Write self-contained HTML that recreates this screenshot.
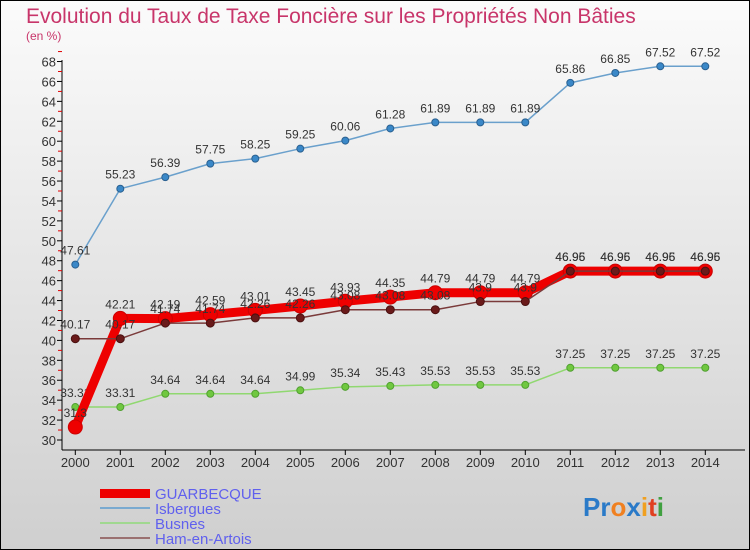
<!DOCTYPE html>
<html><head><meta charset="utf-8"><style>
html,body{margin:0;padding:0}
body{width:750px;height:550px;overflow:hidden;font-family:"Liberation Sans",sans-serif}
svg{display:block}
</style></head><body>
<svg id="chart" width="750" height="550" xmlns="http://www.w3.org/2000/svg">
<defs>
<linearGradient id="bg" x1="0" y1="0" x2="0" y2="1">
<stop offset="0" stop-color="#fbfbfb"/><stop offset="1" stop-color="#cfcfcf"/>
</linearGradient>
</defs>
<rect x="0.5" y="0.5" width="749" height="549" fill="url(#bg)" stroke="#000"/>
<text x="26" y="23" font-size="21" fill="#c8356a">Evolution du Taux de Taxe Foncière sur les Propriétés Non Bâties</text>
<text x="26" y="40" font-size="12" fill="#c8356a">(en %)</text>
<line x1="62" y1="60" x2="62" y2="450" stroke="#000"/>
<line x1="62" y1="450" x2="745" y2="450" stroke="#000"/>
<g id="axes"></g>
<g id="series"></g>
<g>
<rect x="100" y="489" width="50" height="9" fill="#ee0000"/>
<text x="155" y="499" font-size="15" fill="#6060ee">GUARBECQUE</text>
<line x1="100" y1="508" x2="150" y2="508" stroke="#7aaad0" stroke-width="2"/>
<text x="155" y="514" font-size="15" fill="#6060ee">Isbergues</text>
<line x1="100" y1="523" x2="150" y2="523" stroke="#a0d890" stroke-width="2"/>
<text x="155" y="529" font-size="15" fill="#6060ee">Busnes</text>
<line x1="100" y1="538" x2="150" y2="538" stroke="#9a7070" stroke-width="2"/>
<text x="155" y="544" font-size="15" fill="#6060ee">Ham-en-Artois</text>
</g>
<text x="583" y="516" font-size="26" font-weight="bold"><tspan fill="#2a7ac8">Pr</tspan><tspan fill="#f08020">o</tspan><tspan fill="#2a7ac8">x</tspan><tspan fill="#f0a020">i</tspan><tspan fill="#e04020">t</tspan><tspan fill="#40a040">i</tspan></text>
</svg>
<script>
const years=[2000,2001,2002,2003,2004,2005,2006,2007,2008,2009,2010,2011,2012,2013,2014];
const guarbecque=[31.3,42.21,42.19,42.59,43.01,43.45,43.93,44.35,44.79,44.79,44.79,46.96,46.96,46.96,46.96];
const isbergues=[47.61,55.23,56.39,57.75,58.25,59.25,60.06,61.28,61.89,61.89,61.89,65.86,66.85,67.52,67.52];
const busnes=[33.31,33.31,34.64,34.64,34.64,34.99,35.34,35.43,35.53,35.53,35.53,37.25,37.25,37.25,37.25];
const ham=[40.17,40.17,41.74,41.74,42.26,42.26,43.08,43.08,43.08,43.9,43.9,46.95,46.95,46.95,46.95];
const yTicks=[30,32,34,36,38,40,42,44,46,48,50,52,54,56,58,60,62,64,66,68];
const NS="http://www.w3.org/2000/svg";
const xs=i=>75.3+i*45;
const ys=v=>440-(v-30)*9.96;
const axes=document.getElementById('axes'),ser=document.getElementById('series');
function mk(tag,attrs,parent){const e=document.createElementNS(NS,tag);for(const k in attrs)e.setAttribute(k,attrs[k]);parent.appendChild(e);return e;}
yTicks.forEach(v=>{
  const y=ys(v);
  const t=mk('line',{x1:57,x2:62,y1:y,y2:y,stroke:'#000'},axes);
  
  
  const m=mk('line',{x1:58,x2:62,y1:y-9.96,y2:y-9.96,stroke:'#e00000'},axes);
  
  
  const l=mk('text',{x:56,y:y+5,'font-size':13,fill:'#333','text-anchor':'end'},axes);
  l.textContent=v;
  
  
});
years.forEach((yr,i)=>{
  const x=xs(i);
  const t=mk('line',{x1:x,x2:x,y1:450,y2:455,stroke:'#000'},axes);
  
  
  const l=mk('text',{x:x,y:467,'font-size':13,fill:'#333','text-anchor':'middle'},axes);
  l.textContent=yr;
  
  
});
function draw(vals,name,color,w,r,fill,stroke){
  const g=mk('g',{},ser);
  
  
  const p=mk('polyline',{points:vals.map((v,i)=>xs(i)+','+ys(v)).join(' '),fill:'none',stroke:color,'stroke-width':w,'stroke-linejoin':'round'},g);
  
  
  vals.forEach((v,i)=>{
    const c=mk('circle',{cx:xs(i),cy:ys(v),r:r,fill:fill,stroke:stroke,'stroke-width':1},g);
    
    
    const t=mk('text',{x:xs(i),y:ys(v)-10,'font-size':12,fill:'#333','text-anchor':'middle'},g);
    t.textContent=String(v);
    
    
  });
}
draw(isbergues,'isbergues','#6aa0cc',1.5,3.5,'#3a88c8','#2a6090');
draw(busnes,'busnes','#90d870',1.5,3.5,'#70c840','#50a030');
draw(guarbecque,'guarbecque','#ee0000',9,7,'#ee0000','#cc0000');
draw(ham,'ham-en-artois','#7a3a3a',1.5,4,'#6a1a1a','#4a1010');
</script>
</body></html>
